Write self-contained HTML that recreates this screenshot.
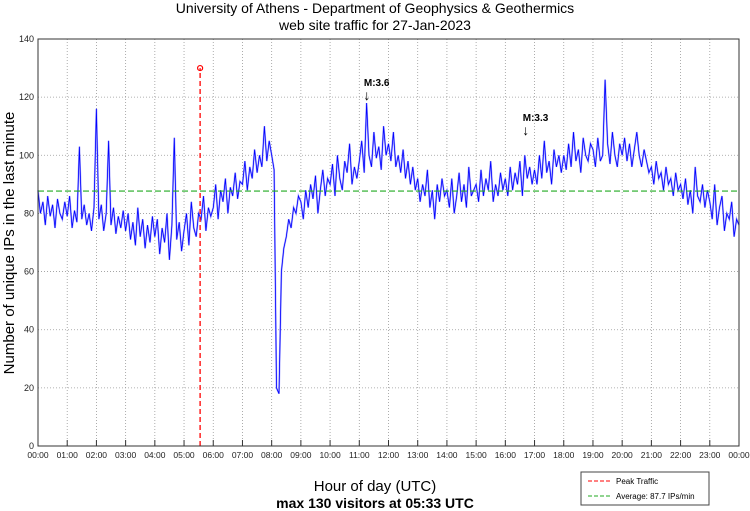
<!DOCTYPE html>
<html><head><meta charset="utf-8"><style>
body{margin:0;background:#fff;}
svg{display:block;font-family:"Liberation Sans",sans-serif;}
</style></head><body>
<svg id="chart" width="750" height="511">
<text x="375" y="13" font-size="14" text-anchor="middle">University of Athens - Department of Geophysics &amp; Geothermics</text>
<text x="375" y="30" font-size="14" text-anchor="middle">web site traffic for 27-Jan-2023</text>
<text transform="translate(14,243) rotate(-90)" font-size="15" text-anchor="middle">Number of unique IPs in the last minute</text>
<text x="375" y="491" font-size="15" text-anchor="middle">Hour of day (UTC)</text>
<text x="375" y="508" font-size="14" font-weight="bold" text-anchor="middle">max 130 visitors at 05:33 UTC</text>
<g id="grid"></g>
<g id="series"></g>
<g id="overlay"></g>
<rect x="38" y="39" width="701" height="407" fill="none" stroke="#333" stroke-width="1"/>
<g>
<rect x="581" y="472" width="128" height="33" fill="#fff" stroke="#444" stroke-width="1"/>
<line x1="588" y1="481" x2="611" y2="481" stroke="#f00" stroke-dasharray="4,2"/>
<text x="616" y="484" font-size="8">Peak Traffic</text>
<line x1="588" y1="496" x2="611" y2="496" stroke="#2a2" stroke-dasharray="4,2"/>
<text x="616" y="499" font-size="8">Average: 87.7 IPs/min</text>
</g>
</svg>
<script>
const values = [
88,80,84,76,86,79,83,75,85,80,78,84,
79,86,75,81,77,103,78,83,76,80,74,82,
116,78,83,74,80,105,76,82,73,79,75,81,
74,80,71,77,69,82,72,78,68,76,70,79,
72,78,66,75,70,80,64,76,106,71,77,67,
74,80,69,84,75,72,80,78,86,74,82,79,
82,90,78,88,84,92,80,89,86,94,85,91,
90,98,88,96,92,102,94,100,96,110,98,105,
100,95,20,18,60,68,72,78,75,82,80,86,
84,78,88,82,90,85,93,80,88,95,86,92,
90,97,86,100,92,88,98,94,104,90,96,92,
98,105,94,118,100,96,108,99,103,95,110,100,
104,98,108,96,100,94,102,92,98,90,96,88,
92,84,90,86,95,82,88,78,90,84,92,86,
88,82,92,80,86,94,84,90,82,96,86,88,
90,84,95,86,92,88,98,84,90,86,94,88,
92,86,96,88,94,90,98,86,100,92,96,90,
95,90,100,92,105,94,98,90,102,96,100,94,
100,95,104,96,108,98,102,94,106,100,98,104,
102,96,106,98,100,126,104,97,108,100,96,104,
100,106,98,104,96,102,108,100,96,102,98,94,
96,90,98,92,94,88,96,90,92,86,94,88,
90,85,92,83,88,80,96,86,84,90,82,88,
84,78,90,76,82,86,74,80,78,84,72,78,76];
const stepMinutes = [5];
const yTicks = [0,20,40,60,80,100,120,140];
const xTickLabels = ["00:00","01:00","02:00","03:00","04:00","05:00","06:00","07:00","08:00","09:00","10:00","11:00","12:00","13:00","14:00","15:00","16:00","17:00","18:00","19:00","20:00","21:00","22:00","23:00","00:00"];
const peakValue = [130];
const peakHour = [5.55];
const averageValue = [87.7];
const quakeLabels = ["M:3.6","M:3.3"];
const quakeHours = [11.26,16.7];
const quakeLevels = [119,107];

const X0=38,X1=739,Y0=446,Y1=39,NS='http://www.w3.org/2000/svg';
const xs=h=>X0+(X1-X0)*h/24;
const ys=v=>Y0-(Y0-Y1)*v/140;
function mk(tag,attrs,parent){const e=document.createElementNS(NS,tag);for(const k in attrs)e.setAttribute(k,attrs[k]);parent.appendChild(e);return e;}
const grid=document.getElementById('grid'),series=document.getElementById('series'),ov=document.getElementById('overlay');
yTicks.forEach(v=>{
  const y=ys(v);
  if(v>0&&v<140){const l=mk('line',{x1:X0,x2:X1,y1:y,y2:y,stroke:'#999','stroke-dasharray':'1,2','stroke-width':0.8},grid);
  
  }
  const t=mk('text',{x:X0-4,y:y+3,'font-size':9,'text-anchor':'end',fill:'#222'},grid);
  
  
  t.textContent=v;
});
xTickLabels.forEach((s,i)=>{
  const x=xs(i);
  if(i>0&&i<24){const l=mk('line',{x1:x,x2:x,y1:Y1,y2:Y0,stroke:'#999','stroke-dasharray':'1,2','stroke-width':0.8},grid);
  
  
  const tk=mk('line',{x1:x,x2:x,y1:Y0,y2:Y0-6,stroke:'#333'},grid);
  
  }
  const t=mk('text',{x:x,y:Y0+12,'font-size':8.5,'text-anchor':'middle',fill:'#222'},grid);
  
  
  t.textContent=s;
});
const pts=values.map((v,i)=>xs(i*stepMinutes[0]/60).toFixed(1)+','+ys(v).toFixed(1)).join(' ');
const pl2=mk('polyline',{points:pts,fill:'none',stroke:'#aaaaff','stroke-width':1.8},series);


const pl=mk('polyline',{points:pts,fill:'none',stroke:'#0000ff','stroke-width':0.8},series);


const av=mk('line',{x1:X0,x2:X1,y1:ys(averageValue[0]),y2:ys(averageValue[0]),stroke:'#22aa22','stroke-dasharray':'6,3','stroke-width':1.2},ov);


const pk=mk('line',{x1:xs(peakHour[0]),x2:xs(peakHour[0]),y1:Y0,y2:ys(peakValue[0]),stroke:'#f00','stroke-dasharray':'5,3','stroke-width':1.3},ov);


const pc=mk('circle',{cx:xs(peakHour[0]),cy:ys(peakValue[0]),r:2.5,fill:'none',stroke:'#f00','stroke-width':1.2},ov);


quakeLabels.forEach((s,i)=>{
  const x=xs(quakeHours[i]),y=ys(quakeLevels[i]);
  const a=mk('text',{x:x,y:y,'font-size':14,'text-anchor':'middle'},ov);
  
  
  a.textContent='↓';
  const t=mk('text',{x:x-3,y:y-14,'font-size':10,'font-weight':'bold'},ov);
  
  
  t.textContent=s;
});
</script>
</body></html>
